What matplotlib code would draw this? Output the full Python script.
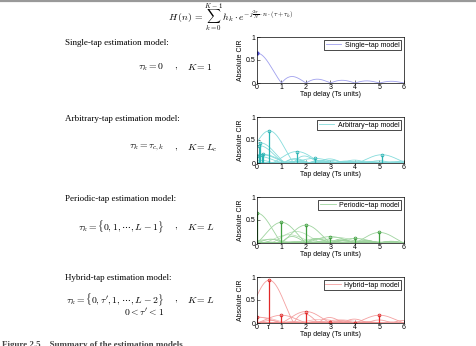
import numpy as np
import matplotlib.pyplot as plt
from matplotlib.lines import Line2D

plt.rcParams['mathtext.fontset'] = 'cm'
plt.rcParams['font.family'] = 'Liberation Sans'

# tap delays (Ts units) and tap gains
single_delays = [0.0]
single_gains = [0.65]

arb_delays = [0.02, 0.08, 0.13, 0.2, 0.24, 0.5, 1.63, 2.35, 5.1]
arb_gains = [0.15, 0.38, 0.44, 0.18, 0.19, 0.70, 0.25, 0.10, 0.18]

per_delays = [0, 1, 2, 3, 4, 5]
per_gains = [0.65, 0.45, 0.39, 0.14, 0.10, 0.23]
# faint curves in the periodic panel (true channel taps)
per_bg_delays = [0.5, 1.3, 1.6, 2.5, 3.3, 4.2]
per_bg_gains = [0.08, 0.18, 0.25, 0.10, 0.12, 0.06]

hyb_delays = [0, 0.5, 1, 2, 3, 4, 5]
hyb_gains = [0.13, 0.93, 0.17, 0.25, 0.02, 0.01, 0.17]
hyb_bg_delays = [0.2, 2.6, 3.4]
hyb_bg_gains = [0.12, 0.08, 0.07]

panels = [
    ("Single\u2212tap model", single_delays, single_gains, [], [], "#a0a0ee", "#5050d0", False),
    ("Arbitrary\u2212tap model", arb_delays, arb_gains, [], [], "#86dcdc", "#2cb4b4", True),
    ("Periodic\u2212tap model", per_delays, per_gains, per_bg_delays, per_bg_gains, "#9fd49f", "#3f9f3f", True),
    ("Hybrid\u2212tap model", hyb_delays, hyb_gains, hyb_bg_delays, hyb_bg_gains, "#f4a0a0", "#e02828", True),
]

W, H = 477, 346
fig = plt.figure(figsize=(W / 100, H / 100), dpi=100)
fig.add_artist(Line2D([0, 1], [1 - 1 / H, 1 - 1 / H], color='#999999', lw=1.6))

x = np.linspace(0, 6, 601)
tops = [37, 117, 197, 277]
for (name, dl, gl, bd, bg, cc, sc, stems), top in zip(panels, tops):
    ax = fig.add_axes([257 / W, 1 - (top + 46) / H, 147 / W, 46 / H])
    for d, g in zip(bd, bg):
        ax.plot(x, g * np.abs(np.sinc(x - d)), color=cc, lw=0.5, alpha=0.8)
    first = True
    for d, g in zip(dl, gl):
        ax.plot(x, g * np.abs(np.sinc(x - d)), color=cc, lw=0.6,
                label=name if first else None)
        first = False
    if stems:
        ml, sl, bl = ax.stem(dl, gl, linefmt='-', markerfmt='o', basefmt='-')
        plt.setp(sl, color=sc, lw=0.9)
        plt.setp(ml, color=sc, markersize=2, markerfacecolor='none', mew=0.6)
        plt.setp(bl, color=sc, lw=0.9)
    else:
        ax.plot(dl, gl, 'o', color=sc, markersize=2)
    ax.set_xlim(0, 6)
    ax.set_ylim(0, 1)
    ax.set_yticks([0, 0.5, 1])
    ax.set_yticklabels(['0', '0.5', '1'])
    if name.startswith('Hybrid'):
        ax.set_xticks([0, 0.5, 1, 2, 3, 4, 5, 6])
        ax.set_xticklabels(['0', "\u03c4'", '1', '2', '3', '4', '5', '6'])
    else:
        ax.set_xticks(range(7))
    ax.tick_params(direction='in', length=2, width=0.4, labelsize=5, pad=1)
    for s in ax.spines.values():
        s.set_linewidth(0.5)
    ax.set_xlabel('Tap delay (Ts units)', fontsize=5, labelpad=0)
    ax.set_ylabel('Absolute CIR', fontsize=5, labelpad=1.5)
    leg = ax.legend(loc='upper right', fontsize=5, handlelength=2.2,
                    borderpad=0.25, borderaxespad=0.4, handletextpad=0.5,
                    fancybox=False, framealpha=1)
    leg.get_frame().set_edgecolor('black')
    leg.get_frame().set_linewidth(0.5)

serif = 'Liberation Serif'
fig.text(231 / W, 1 - 18 / H,
         r'$H\,(n)\,=\,\sum_{k=0}^{K-1}\,h_k\cdot e^{-j\frac{2\pi}{N}\cdot n\cdot(\tau+\tau_k)}$',
         ha='center', va='center', fontsize=7)

labels = ["Single-tap estimation model:", "Arbitrary-tap estimation model:",
          "Periodic-tap estimation model:", "Hybrid-tap estimation model:"]
label_y = [43, 119, 199, 278]
for t, yy in zip(labels, label_y):
    fig.text(65 / W, 1 - yy / H, t, fontsize=6.5, family=serif, va='center')

lhs = [r'$\tau_k=0$', r'$\tau_k=\tau_{c,k}$', r'$\tau_k=\{0,1,\cdots,L-1\}$',
       r"$\tau_k=\{0,\tau',1,\cdots,L-2\}$"]
rhs = [r'$K=1$', r'$K=L_c$', r'$K=L$', r'$K=L$']
form_y = [67, 148, 227, 300]
for a, b, yy in zip(lhs, rhs, form_y):
    fig.text(164 / W, 1 - yy / H, a, ha='right', va='center', fontsize=7)
    fig.text(176 / W, 1 - yy / H, r'$,$', ha='center', va='center', fontsize=7)
    fig.text(187 / W, 1 - yy / H, b, ha='left', va='center', fontsize=7)
fig.text(164 / W, 1 - 312.5 / H, r"$0<\tau'<1$", ha='right', va='center', fontsize=7)

fig.text(2 / W, 1 - 341 / H, "Figure 2.5    Summary of the estimation models",
         fontsize=6.5, family=serif, weight='bold', va='top', color='#444444')

fig.savefig('out.png', dpi=100)
